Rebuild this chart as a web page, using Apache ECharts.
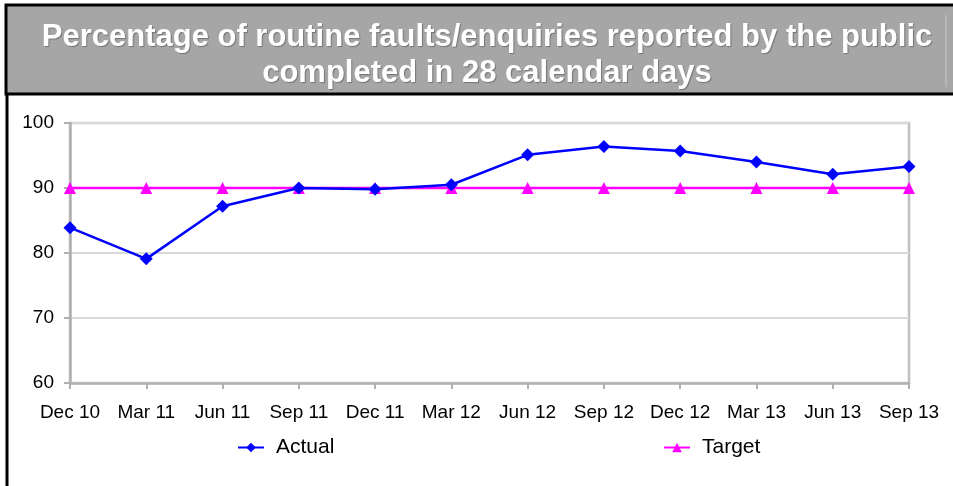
<!DOCTYPE html>
<html>
<head>
<meta charset="utf-8">
<script src="https://cdn.jsdelivr.net/npm/echarts@6/dist/echarts.min.js"></script>
<style>
  html, body { margin: 0; padding: 0; background: #fff; }
  #chart { width: 953px; height: 486px; }
</style>
</head>
<body>
<div id="chart"></div>
<script>
const quarters = ["Dec 10", "Mar 11", "Jun 11", "Sep 11", "Dec 11", "Mar 12",
  "Jun 12", "Sep 12", "Dec 12", "Mar 13", "Jun 13", "Sep 13"];
const actual = [83.9, 79.1, 87.2, 90.0, 89.8, 90.5, 95.1, 96.4, 95.7, 94.0, 92.1, 93.3];
const target = [90, 90, 90, 90, 90, 90, 90, 90, 90, 90, 90, 90];
const yTicks = [60, 70, 80, 90, 100];

const font = "Arial, 'Liberation Sans', sans-serif";
const chart = echarts.init(document.getElementById("chart"));

chart.setOption({
  animation: false,
  textStyle: { fontFamily: font },
  graphic: [
    {
      type: "rect",
      shape: { x: 6, y: 5, width: 960, height: 89 },
      style: { fill: "#a6a6a6", stroke: "#000", lineWidth: 3 },
      z: -10
    },
    {
      type: "line",
      shape: { x1: 946, y1: 15, x2: 946, y2: 87 },
      style: { stroke: "#c8c8c8", lineWidth: 1 },
      z: -9
    },
    {
      type: "line",
      shape: { x1: 7, y1: 94, x2: 7, y2: 490 },
      style: { stroke: "#000", lineWidth: 3 },
      z: -9
    }
  ],
  title: {
    text: "Percentage of routine faults/enquiries reported by the public\ncompleted in 28 calendar days",
    left: 482,
    textAlign: "center",
    top: 14,
    textStyle: {
      color: "#fff",
      fontWeight: "bold",
      fontSize: 31,
      lineHeight: 36,
      fontFamily: font,
      textShadowColor: "rgba(0,0,0,0.3)",
      textShadowBlur: 1,
      textShadowOffsetX: 1,
      textShadowOffsetY: 1
    }
  },
  legend: [
    {
      data: ["Actual"],
      left: 237,
      top: 437,
      padding: 0,
      itemWidth: 26,
      itemHeight: 12,
      textStyle: { fontSize: 21, color: "#000", padding: [0, 0, 0, 7] }
    },
    {
      data: ["Target"],
      left: 663,
      top: 437,
      padding: 0,
      itemWidth: 26,
      itemHeight: 12,
      textStyle: { fontSize: 21, color: "#000", padding: [0, 0, 0, 7] }
    }
  ],
  grid: {
    left: 70,
    right: 44,
    top: 123,
    bottom: 103,
    show: true,
    borderColor: "#c0c0c0",
    borderWidth: 2.5,
    backgroundColor: "#fff"
  },
  xAxis: {
    type: "category",
    data: quarters,
    boundaryGap: false,
    axisLine: { lineStyle: { color: "#b0b0b0", width: 2.5 } },
    axisTick: { show: true, length: 6, lineStyle: { color: "#b0b0b0", width: 2 } },
    axisLabel: { color: "#000", fontSize: 19, margin: 20, interval: 0 },
    splitLine: { show: false }
  },
  yAxis: {
    type: "value",
    min: yTicks[0],
    max: yTicks[yTicks.length - 1],
    interval: 10,
    axisLine: { show: true, lineStyle: { color: "#b0b0b0", width: 2.5 } },
    axisTick: { show: true, length: 6, lineStyle: { color: "#b0b0b0", width: 2 } },
    axisLabel: { color: "#000", fontSize: 19, margin: 16 },
    splitLine: { lineStyle: { color: "#d9d9d9", width: 2 } }
  },
  series: [
    {
      name: "Actual",
      type: "line",
      data: actual,
      symbol: "diamond",
      symbolSize: 13,
      z: 5,
      lineStyle: { color: "#0000ff", width: 2.5 },
      itemStyle: { color: "#0000ff" }
    },
    {
      name: "Target",
      type: "line",
      data: target,
      symbol: "triangle",
      symbolSize: 12,
      z: 3,
      lineStyle: { color: "#ff00ff", width: 2.5 },
      itemStyle: { color: "#ff00ff" }
    }
  ]
});
</script>
</body>
</html>
